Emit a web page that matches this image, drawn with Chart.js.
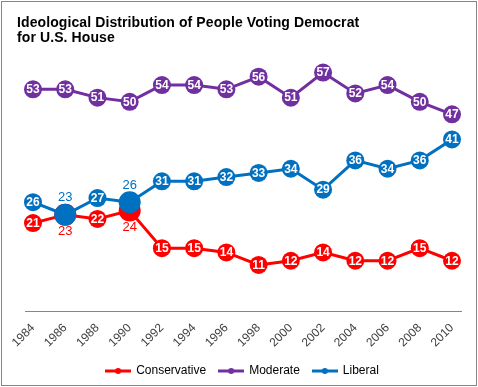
<!DOCTYPE html>
<html><head><meta charset="utf-8">
<script src="https://cdn.jsdelivr.net/npm/chart.js@4.4.1/dist/chart.umd.min.js"></script>
<style>
html,body{margin:0;padding:0;background:#fff;}
#wrap{position:relative;width:478px;height:387px;overflow:hidden;}
#frame{position:absolute;left:1px;top:1px;width:474px;height:383px;border:1px solid #868686;pointer-events:none;}
#title{position:absolute;left:17px;top:15px;font:bold 14px/15px 'Liberation Sans',Arial,sans-serif;color:#000;white-space:nowrap;letter-spacing:0.1px;}
canvas{position:absolute;left:0;top:0;}
</style></head><body>
<div id="wrap"><canvas id="c" width="478" height="387"></canvas><div id="title">Ideological Distribution of People Voting Democrat<br>for U.S. House</div><div id="frame"></div></div>
<script>
const years = ['1984','1986','1988','1990','1992','1994','1996','1998','2000','2002','2004','2006','2008','2010'];
const conservative = [21,23,22,24,15,15,14,11,12,14,12,12,15,12];
const moderate = [53,53,51,50,54,54,53,56,51,57,52,54,50,47];
const liberal = [26,23,27,26,31,31,32,33,34,29,36,34,36,41];
const seriesNames = ['Conservative','Moderate','Liberal'];
const crossYears = ['1986','1990'];

const FONT = "'Liberation Sans', Arial, sans-serif";
const colors = ['#FF0000','#7030A0','#0070C0'];

function isSpecial(i){ return crossYears.includes(years[i]); }

function legendImg(color){
  const c = document.createElement('canvas');
  c.width = 26; c.height = 8;
  const g = c.getContext('2d');
  g.strokeStyle = color; g.lineWidth = 3;
  g.beginPath(); g.moveTo(0,4); g.lineTo(26,4); g.stroke();
  g.fillStyle = color; g.beginPath(); g.arc(13,4,3,0,Math.PI*2); g.fill();
  return c;
}

const labelPlugin = {
  id:'pointLabels',
  afterDatasetDraw(chart, args){
    const ds = chart.data.datasets[args.index];
    const ctx = chart.ctx;
    args.meta.data.forEach((pt,i)=>{
      const v = ds.data[i];
      ctx.save();
      ctx.textAlign='center'; ctx.textBaseline='middle';
      if (ds.outside && isSpecial(i)) {
        ctx.font = "13px " + FONT;
        ctx.fillStyle = ds.borderColor;
        const dy = ds.outside === 'above' ? -17 : 17;
        ctx.fillText(String(v), pt.x, pt.y + dy);
      } else {
        ctx.font = "bold 12px " + FONT;
        ctx.fillStyle = '#fff';
        ctx.fillText(String(v), pt.x, pt.y + 0.5);
      }
      ctx.restore();
    });
  }
};

const axisPlugin = {
  id:'axisLine',
  beforeDatasetsDraw(chart){
    const {ctx, chartArea} = chart;
    ctx.save();
    ctx.strokeStyle = '#868686'; ctx.lineWidth = 1;
    ctx.beginPath();
    const y = Math.round(chartArea.bottom) + 0.5;
    ctx.moveTo(chartArea.left - 8, y); ctx.lineTo(chartArea.right + 10, y);
    ctx.stroke();
    ctx.restore();
  }
};

function bigRadius(ctx){ return isSpecial(ctx.dataIndex) ? 11 : 9; }

new Chart(document.getElementById('c'), {
  type:'line',
  data:{
    labels: years,
    datasets:[
      {label:seriesNames[0], data:conservative, borderColor:colors[0], backgroundColor:colors[0], pointBackgroundColor:colors[0], pointBorderWidth:0, pointRadius:bigRadius, borderWidth:3, order:3, outside:'below', clip:false},
      {label:seriesNames[1], data:moderate, borderColor:colors[1], backgroundColor:colors[1], pointBackgroundColor:colors[1], pointBorderWidth:0, pointRadius:9, borderWidth:3, order:2, clip:false},
      {label:seriesNames[2], data:liberal, borderColor:colors[2], backgroundColor:colors[2], pointBackgroundColor:colors[2], pointBorderWidth:0, pointRadius:bigRadius, borderWidth:3, order:1, outside:'above', clip:false}
    ]
  },
  options:{
    responsive:false,
    animation:false,
    devicePixelRatio:1,
    layout:{padding:{top:60, left:33, right:26, bottom:0}},
    scales:{
      x:{
        grid:{display:false}, border:{display:false},
        ticks:{minRotation:45, maxRotation:45, color:'#404040', font:{family:FONT, size:12}, padding:2}
      },
      y:{display:false, min:0, max:60}
    },
    plugins:{
      tooltip:{enabled:false},
      legend:{
        position:'bottom',
        labels:{
          usePointStyle:true, pointStyleWidth:24, boxHeight:8, padding:13,
          color:'#000', font:{family:FONT, size:12},
          generateLabels(chart){
            return chart.data.datasets.map((d,i)=>({
              text:d.label, pointStyle:legendImg(d.borderColor), fillStyle:d.borderColor,
              strokeStyle:d.borderColor, lineWidth:0, hidden:false, datasetIndex:i, fontColor:'#000'
            }));
          }
        }
      }
    }
  },
  plugins:[axisPlugin, labelPlugin]
});
</script>
</body></html>
